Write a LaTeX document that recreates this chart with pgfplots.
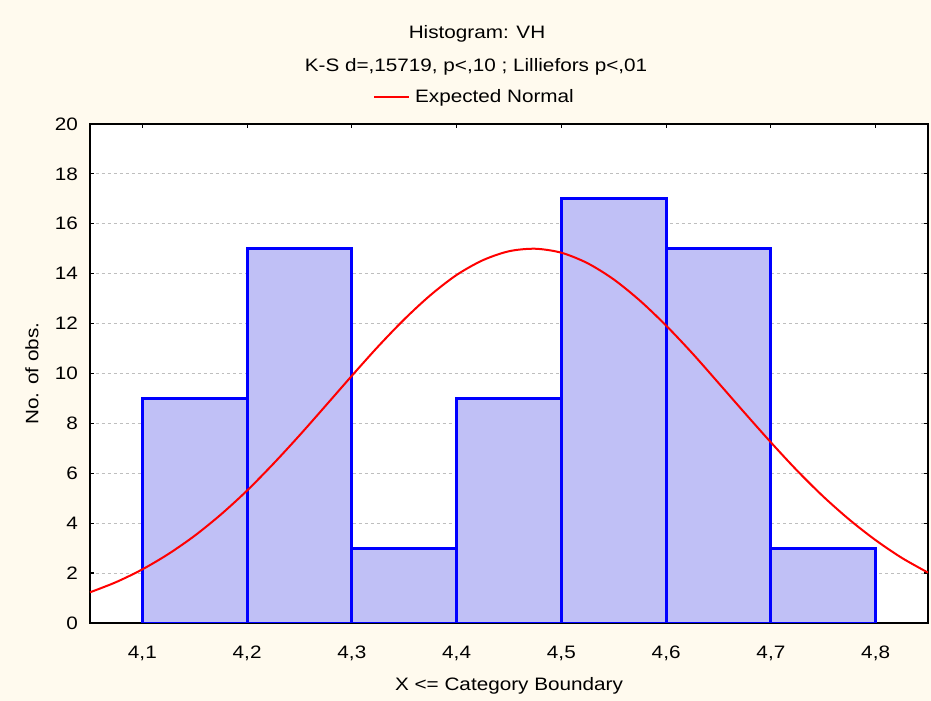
\documentclass[border=0pt]{standalone}
\usepackage{pgfplots}
\pgfplotsset{compat=1.18}
\usepackage{fontspec}
\setmainfont{Liberation Sans}[FakeStretch=1.15]
\definecolor{bgcream}{RGB}{255,250,238}
\definecolor{barfill}{RGB}{192,192,246}
\definecolor{gridgray}{RGB}{190,190,190}

\begin{document}
\fontsize{18bp}{21bp}\selectfont
\begin{tikzpicture}
\fill[bgcream] (0,0) rectangle (931bp,701bp);
\node at (477bp,667.5bp) {Histogram: VH};
\node at (476bp,634bp) {K-S d=,15719, p<,10 ; Lilliefors p<,01};
\begin{axis}[
    at={(90bp,78bp)}, anchor=south west,
    scale only axis, width=838bp, height=499bp,
    xmin=4.05, xmax=4.85,
    ymin=0, ymax=20,
    xtick={4.1,4.2,4.3,4.4,4.5,4.6,4.7,4.8},
    ytick={0,2,4,6,8,10,12,14,16,18,20},
    tick align=inside,
    major tick length=4bp,
    tick style={black, line width=1.2bp},
    axis line style={black, line width=1.6bp},
    axis background/.style={fill=white},
    ymajorgrids=true,
    grid style={gridgray, dashed, line width=0.8bp},
    xticklabel style={inner sep=0pt, anchor=north, yshift=-23bp,
        /pgf/number format/.cd, use comma, fixed, fixed zerofill, precision=1, assume math mode=true},
    yticklabel style={inner sep=0pt, anchor=east, xshift=-12bp,
        /pgf/number format/assume math mode=true},
    xlabel={X <= Category Boundary},
    xlabel style={at={(axis description cs:0.5,-0.1263)}, anchor=center},
    ylabel={No. of obs.},
    ylabel style={at={(axis description cs:-0.0692,0.5)}, anchor=center},
    legend style={draw=none, fill=none, at={(axis description cs:0.4606,1.054)}, anchor=center,
        nodes={inner xsep=5bp}},
    legend image code/.code={\draw[#1] (0bp,0bp) -- (35bp,0bp);},
]

% histogram counts, bins of width 0.1
\addplot[ybar interval, draw=blue, fill=barfill, line width=2.8bp, forget plot]
    coordinates {
    (4.1,9)(4.2,15)(4.3,3)(4.4,9)(4.5,17)(4.6,15)(4.7,3)(4.8,3)
    };

% expected normal curve
\addplot[color=red, line width=2bp, smooth]
    coordinates {
    (4.050,1.23)(4.075,1.64)(4.100,2.15)(4.125,2.77)(4.150,3.50)(4.175,4.35)
    (4.200,5.31)(4.225,6.38)(4.250,7.52)(4.275,8.71)(4.300,9.91)(4.325,11.08)
    (4.350,12.17)(4.375,13.14)(4.400,13.95)(4.425,14.54)(4.450,14.90)(4.475,15.00)
    (4.500,14.84)(4.525,14.42)(4.550,13.77)(4.575,12.92)(4.600,11.92)(4.625,10.81)
    (4.650,9.62)(4.675,8.42)(4.700,7.24)(4.725,6.11)(4.750,5.07)(4.775,4.14)
    (4.800,3.32)(4.825,2.61)(4.850,2.02)
    };
\addlegendentry{Expected Normal}

\end{axis}
\end{tikzpicture}
\end{document}
